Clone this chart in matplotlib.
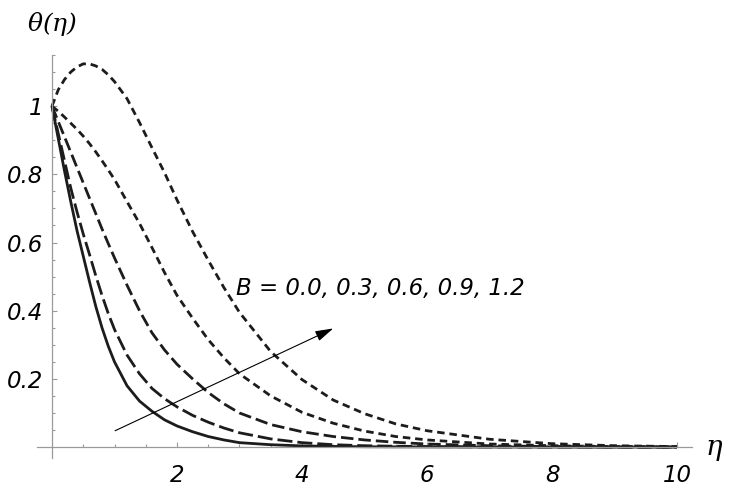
import matplotlib
matplotlib.use("Agg")
import matplotlib.pyplot as plt
from matplotlib.ticker import FixedLocator

plt.rcParams['font.family'] = ['DejaVu Sans']
plt.rcParams['font.style'] = 'italic'
plt.rcParams['mathtext.fontset'] = 'dejavuserif'
plt.rcParams['lines.scale_dashes'] = False

# eta grid
eta = [0, 0.1, 0.2, 0.3, 0.4, 0.5, 0.6, 0.7, 0.8, 0.9, 1.0, 1.2, 1.4, 1.6, 1.8, 2.0,
       2.25, 2.5, 2.75, 3.0, 3.5, 4.0, 4.5, 5.0, 5.5, 6.0, 7.0, 8.0, 9.0, 10.0]

theta_B00 = [1.0, 0.905, 0.81, 0.72, 0.635, 0.56, 0.485, 0.413, 0.35, 0.296, 0.25, 0.18,
             0.135, 0.105, 0.08, 0.062, 0.045, 0.031, 0.021, 0.013, 0.007,
             0.0035, 0.002, 0.001, 0.0007, 0.0005, 0.0002, 0.0001, 0.0, 0.0]
theta_B03 = [1.0, 0.92, 0.84, 0.76, 0.69, 0.625, 0.565, 0.503, 0.445, 0.392, 0.345, 0.27,
             0.215, 0.172, 0.142, 0.118, 0.093, 0.073, 0.056, 0.042, 0.024,
             0.013, 0.007, 0.004, 0.0025, 0.0015, 0.0005, 0.0002, 0.0001, 0.0]
theta_B06 = [1.0, 0.955, 0.91, 0.865, 0.82, 0.775, 0.73, 0.685, 0.64, 0.597, 0.555, 0.475,
             0.40, 0.335, 0.285, 0.243, 0.2, 0.16, 0.127, 0.1, 0.066,
             0.045, 0.031, 0.021, 0.014, 0.009, 0.004, 0.0015, 0.0006, 0.0002]
theta_B09 = [1.0, 0.985, 0.968, 0.95, 0.932, 0.912, 0.89, 0.866, 0.84, 0.813, 0.785, 0.72,
             0.656, 0.585, 0.512, 0.445, 0.378, 0.315, 0.262, 0.215, 0.15,
             0.102, 0.07, 0.047, 0.031, 0.021, 0.009, 0.004, 0.0015, 0.0005]
theta_B12 = [1.0, 1.048, 1.078, 1.1, 1.115, 1.124, 1.124, 1.118, 1.108, 1.092, 1.072, 1.022,
             0.952, 0.878, 0.805, 0.725, 0.632, 0.548, 0.468, 0.395, 0.28,
             0.198, 0.138, 0.098, 0.068, 0.048, 0.023, 0.010, 0.004, 0.0015]

series = [theta_B00, theta_B03, theta_B06, theta_B09, theta_B12]
dash_styles = ['-', (0, (10.8, 3.6)), (0, (9.0, 3.6)), (0, (5.4, 3.5)), (0, (5.4, 3.5))]

x_major = [2, 4, 6, 8, 10]
x_labels = ['2', '4', '6', '8', '10']
y_major = [0.2, 0.4, 0.6, 0.8, 1.0]
y_labels = ['0.2', '0.4', '0.6', '0.8', '1']

annotation_text = 'B = 0.0, 0.3, 0.6, 0.9, 1.2'

fig = plt.figure(figsize=(7.33, 4.88), dpi=100)
ax = fig.add_axes([37/733, 1-458/488, (692-37)/733, (458-55)/488])

for th, ls in zip(series, dash_styles):
    ax.plot(eta, th, color='#1c1c1c', lw=2.0, linestyle=ls, solid_capstyle='butt',
            dash_capstyle='butt', solid_joinstyle='round', clip_on=False)

ax.set_xlim(-0.24, 10.24)
ax.set_ylim(-0.032, 1.15)

for s in ['top', 'right']:
    ax.spines[s].set_visible(False)
for s in ['left', 'bottom']:
    ax.spines[s].set_position(('data', 0))
    ax.spines[s].set_color('#9a9a9a')
    ax.spines[s].set_linewidth(0.9)

ax.xaxis.set_major_locator(FixedLocator(x_major))
ax.set_xticklabels(x_labels)
ax.xaxis.set_minor_locator(FixedLocator([v * 0.5 for v in range(1, 21) if v % 4 != 0]))
ax.yaxis.set_major_locator(FixedLocator(y_major))
ax.set_yticklabels(y_labels)
ax.yaxis.set_minor_locator(FixedLocator([v * 0.05 for v in range(1, 24) if v % 4 != 0]))

ax.tick_params(axis='both', which='both', direction='in', color='#9a9a9a', width=0.8)
ax.tick_params(axis='both', which='major', length=3.6, labelsize=16.5)
ax.tick_params(axis='both', which='minor', length=2.0)
ax.tick_params(axis='x', which='major', pad=12)
ax.tick_params(axis='y', which='major', pad=6.5)

ax.annotate('', xy=(4.50, 0.348), xytext=(1.01, 0.048),
            arrowprops=dict(arrowstyle='-|>,head_length=0.55,head_width=0.16',
                            mutation_scale=20, lw=0.8, color='black',
                            shrinkA=0, shrinkB=0))
ax.text(2.95, 0.446, annotation_text, fontsize=16.5, style='italic',
        ha='left', va='baseline')

ax.text(-0.4, 1.22, r'$\theta(\eta)$', fontsize=18, ha='left', va='baseline', clip_on=False)
ax.text(10.45, -0.023, r'$\eta$', fontsize=20, ha='left', va='baseline', clip_on=False)

fig.savefig('out.png', dpi=100)
